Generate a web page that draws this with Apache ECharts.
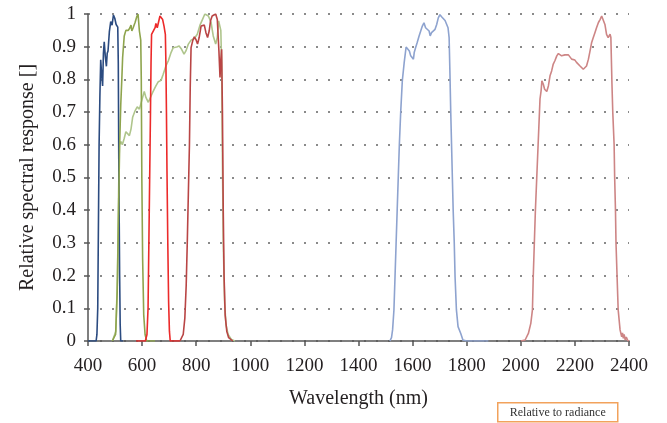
<!DOCTYPE html>
<html>
<head>
<meta charset="utf-8">
<script src="https://cdn.jsdelivr.net/npm/echarts@6/dist/echarts.min.js"></script>
<style>
html,body{margin:0;padding:0;background:#fff;}
#chart{width:667px;height:423px;}
</style>
</head>
<body>
<div id="chart"></div>
<script>
// Wavelength (nm) / relative response pairs
const blueBand = [[400,0],[430,0],[433,0.02],[436,0.1],[439,0.4],[441,0.6],[444,0.75],[447,0.86],[450,0.82],[454,0.78],[457,0.88],[460,0.915],[464,0.87],[468,0.84],[471,0.88],[474,0.887],[479,0.946],[484,0.977],[489,0.966],[494,0.997],[499,0.987],[504,0.968],[508,0.974],[510,0.96],[512,0.85],[514,0.52],[517,0.2],[519,0.05],[521,0],[530,0]];
const greenBand = [[490,0],[497,0],[502,0.02],[508,0.15],[513,0.4],[517,0.6],[521,0.72],[525,0.8],[528,0.867],[534,0.933],[540,0.95],[549,0.95],[555,0.958],[559,0.966],[562,0.948],[567,0.958],[574,0.974],[580,0.991],[585,1.0],[590,0.948],[595,0.92],[597,0.8],[599,0.5],[602,0.25],[606,0.08],[611,0.02],[617,0],[648,0]];
const panBand = [[490,0],[497,0],[503,0.03],[509,0.2],[513,0.45],[516,0.6],[518,0.6],[522,0.61],[527,0.6],[534,0.62],[540,0.64],[546,0.638],[553,0.628],[559,0.648],[565,0.684],[574,0.704],[582,0.716],[590,0.709],[595,0.704],[602,0.745],[608,0.763],[614,0.745],[623,0.73],[629,0.735],[639,0.76],[651,0.78],[660,0.793],[670,0.797],[678,0.816],[688,0.841],[697,0.857],[707,0.882],[715,0.897],[728,0.899],[737,0.902],[746,0.892],[755,0.877],[762,0.887],[771,0.908],[781,0.92],[793,0.925],[804,0.938],[814,0.966],[823,0.983],[832,1.0],[845,0.994],[855,0.974],[863,0.933],[872,0.908],[878,0.928],[883,0.979],[888,0.977],[891,0.95],[894,0.85],[897,0.55],[900,0.3],[905,0.12],[910,0.05],[918,0.02],[930,0.005],[943,0]];
const redBand = [[578,0],[612,0],[618,0.02],[622,0.1],[625,0.3],[628,0.5],[631,0.7],[633,0.85],[635,0.938],[641,0.943],[648,0.958],[651,0.971],[656,0.958],[661,0.963],[666,0.994],[671,0.997],[676,0.983],[681,0.963],[686,0.938],[688,0.85],[690,0.7],[692,0.52],[695,0.3],[698,0.12],[701,0.03],[704,0],[740,0]];
const nirBand = [[740,0],[746,0],[752,0.02],[758,0.07],[763,0.17],[767,0.3],[771,0.45],[775,0.6],[778,0.78],[781,0.897],[787,0.918],[793,0.93],[799,0.922],[805,0.908],[811,0.928],[818,0.963],[824,0.968],[830,0.966],[836,0.943],[842,0.928],[848,0.948],[853,0.979],[859,0.994],[866,0.997],[872,1.0],[878,0.983],[884,0.887],[888,0.806],[891,0.86],[894,0.892],[897,0.7],[900,0.4],[903,0.2],[907,0.08],[913,0.03],[920,0.01],[935,0]];
const swir1Band = [[1516,0],[1522,0.01],[1526,0.034],[1531,0.095],[1535,0.196],[1539,0.298],[1543,0.4],[1547,0.5],[1551,0.6],[1556,0.7],[1562,0.796],[1569,0.852],[1576,0.899],[1582,0.895],[1588,0.887],[1593,0.872],[1598,0.877],[1603,0.862],[1606,0.882],[1611,0.897],[1617,0.913],[1624,0.933],[1630,0.948],[1636,0.963],[1642,0.973],[1648,0.958],[1654,0.953],[1661,0.948],[1665,0.933],[1670,0.943],[1677,0.946],[1683,0.953],[1689,0.968],[1695,0.988],[1701,0.998],[1708,0.991],[1714,0.988],[1720,0.98],[1726,0.974],[1731,0.958],[1735,0.928],[1738,0.82],[1741,0.7],[1744,0.6],[1747,0.5],[1750,0.4],[1754,0.3],[1757,0.196],[1762,0.095],[1768,0.044],[1778,0.023],[1786,0.003],[1800,0],[1880,0]];
const swir2Band = [[2000,0],[2016,0.003],[2028,0.023],[2037,0.054],[2043,0.095],[2046,0.196],[2050,0.298],[2054,0.4],[2059,0.5],[2064,0.6],[2069,0.7],[2071,0.74],[2075,0.765],[2078,0.796],[2083,0.786],[2088,0.77],[2096,0.763],[2102,0.78],[2108,0.811],[2114,0.826],[2120,0.847],[2126,0.857],[2133,0.872],[2139,0.879],[2145,0.882],[2151,0.872],[2157,0.877],[2163,0.875],[2170,0.877],[2176,0.875],[2182,0.872],[2188,0.862],[2194,0.857],[2200,0.859],[2206,0.852],[2213,0.847],[2219,0.841],[2225,0.836],[2231,0.831],[2237,0.826],[2243,0.841],[2250,0.862],[2256,0.887],[2262,0.913],[2268,0.928],[2274,0.943],[2280,0.958],[2287,0.974],[2293,0.983],[2299,0.994],[2305,0.997],[2311,0.968],[2317,0.938],[2323,0.928],[2330,0.938],[2333,0.928],[2337,0.786],[2340,0.7],[2345,0.6],[2347,0.5],[2350,0.4],[2352,0.298],[2356,0.196],[2360,0.095],[2367,0.034],[2373,0.013],[2376,0.025],[2379,0.008],[2382,0.02],[2386,0.003],[2390,0.012],[2395,0.002],[2400,0]];

const yTicks = { min: 0, max: 1, interval: 0.1 };
const xTicks = { min: 400, max: 2400, interval: 200 };

const bands = [
  { name: 'Pan', data: panBand, color: '#afc58c' },
  { name: 'Blue', data: blueBand, color: '#2b4b80' },
  { name: 'Green', data: greenBand, color: '#8ea44d' },
  { name: 'Red', data: redBand, color: '#ec2a2a' },
  { name: 'NIR', data: nirBand, color: '#b94545' },
  { name: 'SWIR1', data: swir1Band, color: '#8ea3cf' },
  { name: 'SWIR2', data: swir2Band, color: '#cd8585' }
];

const serif = 'Liberation Serif';
const chart = echarts.init(document.getElementById('chart'), null, { renderer: 'canvas' });
chart.setOption({
  animation: false,
  backgroundColor: '#fff',
  grid: { left: 88, right: 38, top: 14, bottom: 82 },
  xAxis: {
    type: 'value', min: xTicks.min, max: xTicks.max, interval: xTicks.interval,
    name: 'Wavelength (nm)', nameLocation: 'middle', nameGap: 48,
    nameTextStyle: { fontFamily: serif, fontSize: 20, color: '#231f20' },
    axisLine: { show: true, lineStyle: { color: '#555', width: 1.5 } },
    axisTick: { show: true, inside: false, length: 5, lineStyle: { color: '#555', width: 1.5 } },
    axisLabel: { fontFamily: serif, fontSize: 19, color: '#231f20', margin: 16, formatter: v => String(v) },
    splitLine: { show: false }
  },
  yAxis: {
    type: 'value', min: yTicks.min, max: yTicks.max, interval: yTicks.interval,
    name: 'Relative spectral response []', nameLocation: 'middle', nameGap: 50, nameRotate: 90,
    nameTextStyle: { fontFamily: serif, fontSize: 20, color: '#231f20' },
    axisLine: { show: true, lineStyle: { color: '#555', width: 1.5 } },
    axisTick: { show: true, inside: false, length: 4, lineStyle: { color: '#555', width: 1.5 } },
    axisLabel: { fontFamily: serif, fontSize: 19, color: '#231f20', margin: 12 },
    splitLine: { show: true, lineStyle: { color: '#8a8a8a', width: 2, type: [2, 10] } }
  },
  series: bands.map(b => ({
    name: b.name, type: 'line', data: b.data, showSymbol: false, smooth: false,
    lineStyle: { color: b.color, width: 1.6 }, itemStyle: { color: b.color }, z: 3
  })),
  graphic: [{
    type: 'group', left: 497, top: 402,
    children: [
      { type: 'rect', shape: { x: 0, y: 0, width: 120, height: 19 }, style: { fill: '#fff', stroke: '#f2a25c', lineWidth: 1.5 } },
      { type: 'text', x: 60, y: 10, style: { text: 'Relative to radiance', fontFamily: serif, fontSize: 12, fill: '#333', align: 'center', verticalAlign: 'middle' } }
    ]
  }]
});
</script>
</body>
</html>
